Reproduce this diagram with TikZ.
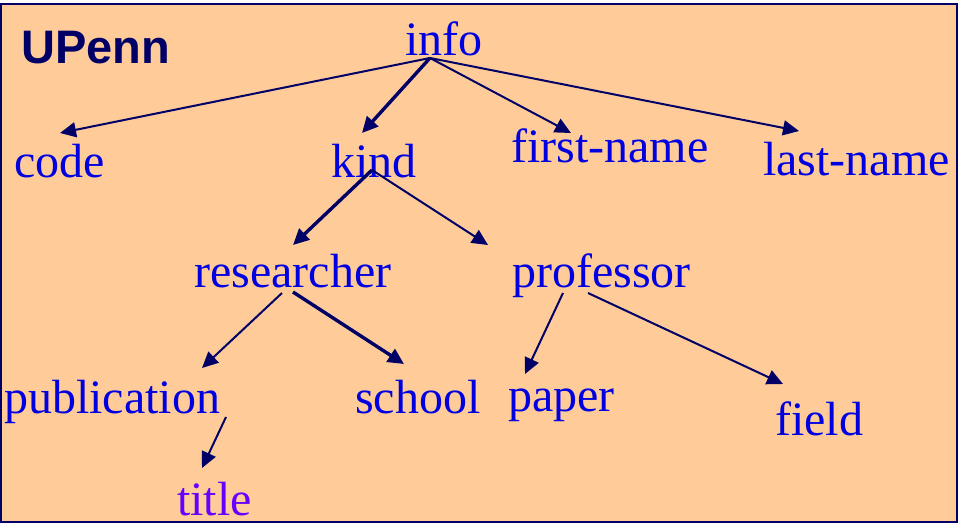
\documentclass[tikz,border=0pt]{standalone}
\usepackage{fontspec}
\setmainfont{Liberation Serif}
\newfontfamily\hdfont{Liberation Sans}
\usetikzlibrary{arrows.meta}
\definecolor{peach}{HTML}{FFCC99}
\definecolor{navy}{HTML}{000066}
\definecolor{tblue}{HTML}{0000E0}
\definecolor{tpurple}{HTML}{6600FF}
\tikzset{
  lbl/.style={anchor=base west, inner sep=0pt, text=tblue, font=\fontsize{48}{48}\selectfont},
  arr/.style={draw=navy, line width=2pt, -{Triangle[length=16pt,width=15pt]}},
  tarr/.style={arr, line width=3.4pt},
}
\begin{document}
\begin{tikzpicture}[x=1pt,y=-1pt]
\useasboundingbox (0,0) rectangle (961,525);
\fill[white] (0,0) rectangle (961,525);
\draw[fill=peach, draw=navy, line width=2.5pt] (1,4) rectangle (957,522);

\node[anchor=base west, inner sep=0pt, text=navy, font=\hdfont\bfseries\fontsize{47}{47}\selectfont] (upenn) at (21,63) {UPenn};

\node[lbl] (info) at (405,55) {info};
\node[lbl] (code) at (14,177) {code};
\node[lbl] (kind) at (331,177) {kind};
\node[lbl] (first) at (511,162) {first-name};
\node[lbl] (last) at (763,175) {last-name};
\node[lbl] (res) at (194,287) {researcher};
\node[lbl] (prof) at (512,287) {professor};
\node[lbl] (pub) at (4,413) {publication};
\node[lbl] (school) at (355,413) {school};
\node[lbl] (paper) at (508,411) {paper};
\node[lbl] (field) at (775,435) {field};
\node[lbl, text=tpurple] (title) at (177,515) {title};

\coordinate (info-o) at (430,58);
\coordinate (code-i) at (60,133);
\coordinate (kind-i) at (362,133);
\coordinate (first-i) at (571,133);
\coordinate (last-i) at (799,131);
\coordinate (kind-o) at (372,170);
\coordinate (res-i) at (293,245);
\coordinate (prof-i) at (488,245);
\coordinate (res-o1) at (282,293);
\coordinate (res-o2) at (293,292);
\coordinate (pub-i) at (202,368);
\coordinate (school-i) at (404,364);
\coordinate (pub-o) at (226,417);
\coordinate (title-i) at (202,468);
\coordinate (prof-o1) at (563,293);
\coordinate (prof-o2) at (588,293);
\coordinate (paper-i) at (525,374);
\coordinate (field-i) at (783,384);

\draw[arr] (info-o) -- (code-i);
\draw[tarr] (info-o) -- (kind-i);
\draw[arr] (info-o) -- (first-i);
\draw[arr] (info-o) -- (last-i);
\draw[tarr] (kind-o) -- (res-i);
\draw[arr] (kind-o) -- (prof-i);
\draw[arr] (res-o1) -- (pub-i);
\draw[tarr] (res-o2) -- (school-i);
\draw[arr] (pub-o) -- (title-i);
\draw[arr] (prof-o1) -- (paper-i);
\draw[arr] (prof-o2) -- (field-i);
\end{tikzpicture}
\end{document}
